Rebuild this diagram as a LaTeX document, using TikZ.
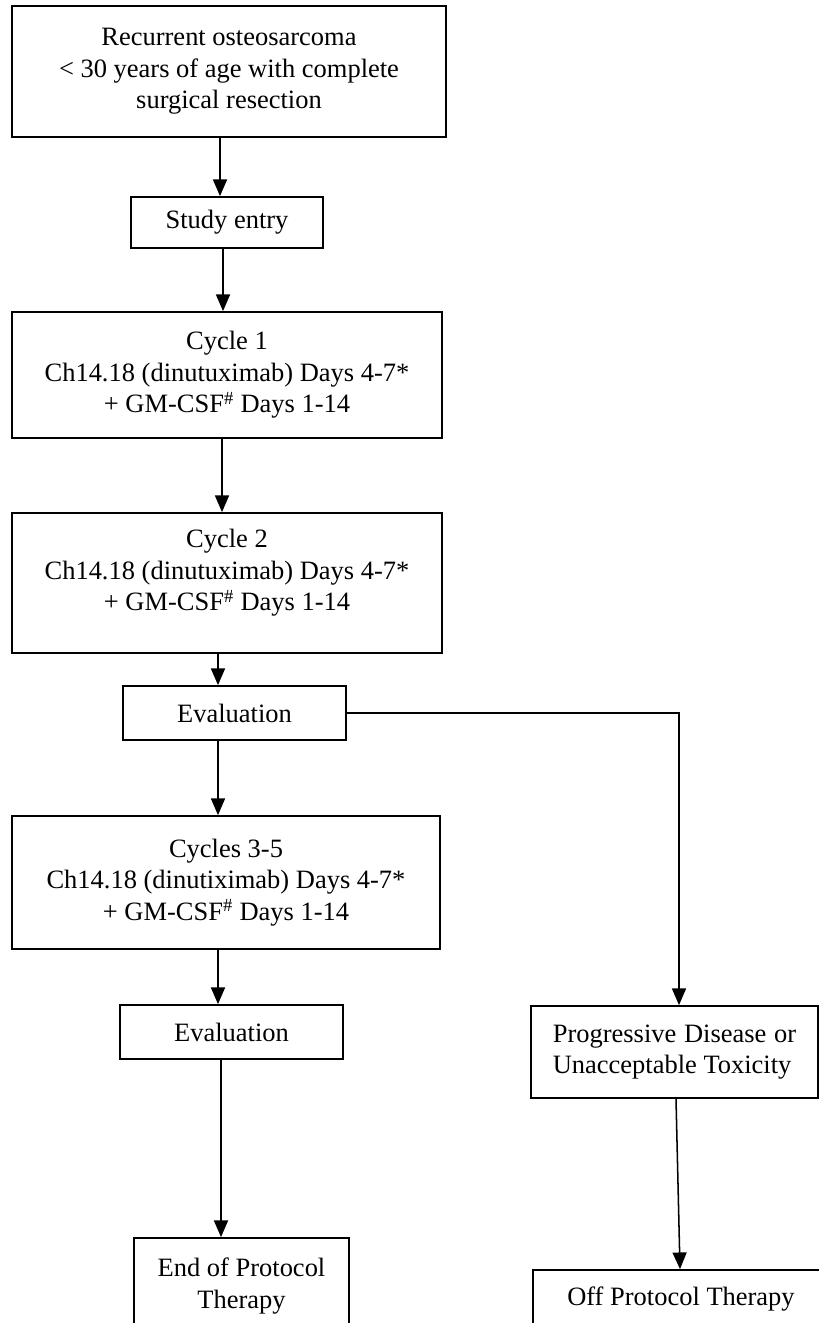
\documentclass[tikz,border=0pt]{standalone}
\usepackage{fontspec}
\setmainfont{Liberation Serif}
\usetikzlibrary{arrows.meta,positioning}

\begin{document}
\begin{tikzpicture}[x=0.03cm, y=-0.03cm,
    >={Triangle[width=0.42cm,length=0.5cm]},
    box/.style={draw, line width=1.5pt, align=center, inner sep=0pt, font=\fontsize{22.6}{27}\selectfont},
    link/.style={->, line width=1.3pt}]

  \useasboundingbox (0,0) rectangle (819,1323);

  \node[box, minimum width=13.02cm, minimum height=3.93cm] (entry) at (229,71.5) {Recurrent osteosarcoma\\< 30 years of age with complete\\surgical resection};
  \node[box, minimum width=5.76cm, minimum height=1.53cm] (study) at (227,222.5) {Study entry};
  \node[box, minimum width=12.9cm, minimum height=3.78cm] (cyc1) at (227,375) {Cycle 1\\Ch14.18 (dinutuximab) Days 4-7*\\+ GM-CSF\textsuperscript{\#} Days 1-14};
  % text sits high in this box
  \node[box, minimum width=12.9cm, minimum height=4.2cm] (cyc2) at (227,583) {Cycle 2\\Ch14.18 (dinutuximab) Days 4-7*\\+ GM-CSF\textsuperscript{\#} Days 1-14\\[-5pt]\mbox{}};
  \node[box, minimum width=6.69cm, minimum height=1.62cm] (eval1) at (234.5,713) {Evaluation};
  \node[box, minimum width=12.84cm, minimum height=3.99cm] (cyc3) at (226,882.5) {Cycles 3-5\\Ch14.18 (dinutiximab) Days 4-7*\\+ GM-CSF\textsuperscript{\#} Days 1-14};
  \node[box, minimum width=6.69cm, minimum height=1.62cm] (eval2) at (231.5,1032) {Evaluation};
  \node[box, minimum width=6.45cm, minimum height=2.88cm] (endp) at (241.5,1286) {End of Protocol\\Therapy};
  \node[box, minimum width=8.61cm, minimum height=2.76cm, text width=7.3cm, align=justify] (prog) at (674.5,1052) {Progressive Disease or\linebreak Unacceptable Toxicity};
  \node[box, minimum width=8.9cm, minimum height=1.74cm] (offp) at (681,1299) {Off Protocol Therapy};

  \draw[link] ([xshift=-0.27cm]entry.south) -- ([xshift=-0.21cm]study.north);
  \draw[link] ([xshift=-0.12cm]study.south) -- ([xshift=-0.12cm]cyc1.north);
  \draw[link] ([xshift=-0.15cm]cyc1.south) -- ([xshift=-0.15cm]cyc2.north);
  \draw[link] ([xshift=-0.27cm]cyc2.south) -- ([xshift=-0.495cm]eval1.north);
  \draw[link] ([xshift=-0.495cm]eval1.south) -- ([xshift=-0.24cm]cyc3.north);
  \draw[link] ([xshift=-0.24cm]cyc3.south) -- ([xshift=-0.405cm]eval2.north);
  \draw[link] ([xshift=-0.315cm]eval2.south) -- ([xshift=-0.615cm]endp.north);
  \draw[link] (eval1.east) -| ([xshift=0.135cm]prog.north);
  \draw[link] ([xshift=0.045cm]prog.south) -- ([xshift=-0.03cm]offp.north);
\end{tikzpicture}
\end{document}
